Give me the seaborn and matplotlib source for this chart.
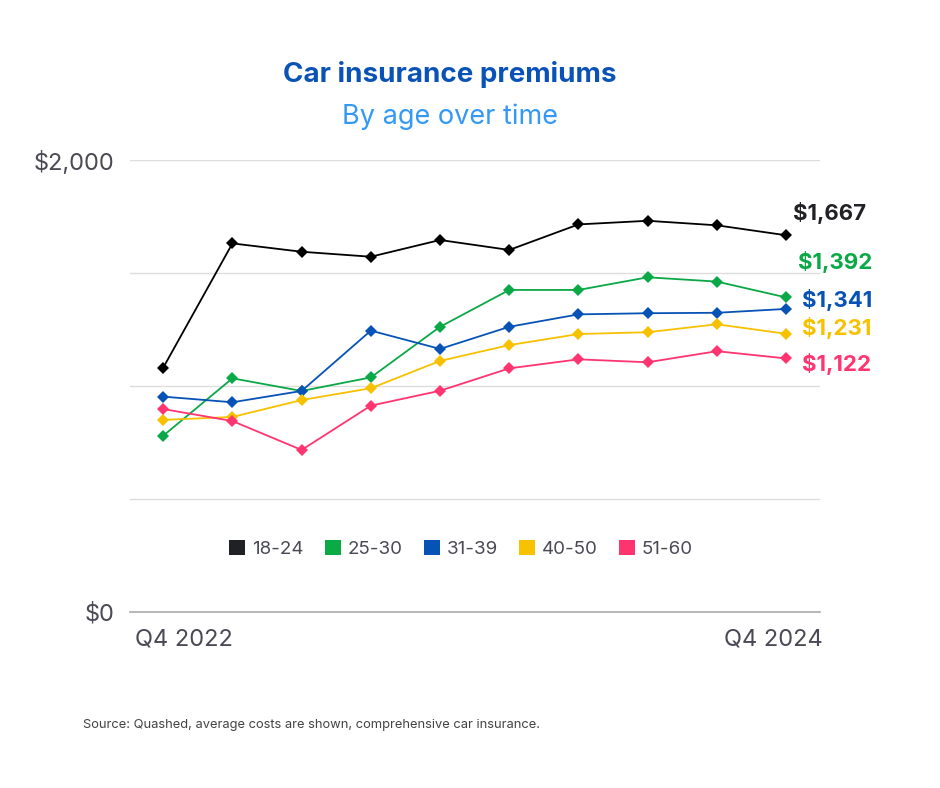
import matplotlib
matplotlib.use("Agg")
import matplotlib.pyplot as plt
import seaborn as sns
import pandas as pd
from matplotlib.patches import Patch

# ---- data ----
periods = list(range(10))
x_labels = ["Q4 2022", "Q4 2024"]
ages = ["18-24", "25-30", "31-39", "40-50", "51-60"]
p_18_24 = [1081, 1631, 1594, 1572, 1646, 1602, 1715, 1731, 1711, 1667]
p_25_30 = [780, 1034, 978, 1038, 1262, 1425, 1425, 1481, 1462, 1392]
p_31_39 = [953, 928, 978, 1245, 1164, 1262, 1317, 1322, 1324, 1341]
p_40_50 = [850, 863, 938, 990, 1111, 1181, 1230, 1238, 1273, 1231]
p_51_60 = [898, 845, 717, 913, 979, 1078, 1118, 1105, 1154, 1122]
end_labels = ["$1,667", "$1,392", "$1,341", "$1,231", "$1,122"]

series = [p_18_24, p_25_30, p_31_39, p_40_50, p_51_60]
colors = ["#000000", "#0aa846", "#0753b5", "#f7c100", "#ff3470"]
legend_colors = ["#1f2125", "#0aab46", "#0652b5", "#f8c200", "#ff3370"]
label_colors = ["#222226", "#0aa846", "#0753b5", "#f7c100", "#ff3470"]

rows = []
for age, vals in zip(ages, series):
    for p, v in zip(periods, vals):
        rows.append({"period": p, "premium": v, "age": age})
df = pd.DataFrame(rows)

sns.set_theme(style="white")
plt.rcParams["font.family"] = ["Inter", "DejaVu Sans"]

fig = plt.figure(figsize=(9.4, 7.88), dpi=100)
ax = fig.add_axes([130 / 940, 1 - 612 / 788, 690 / 940, 452 / 788])

sns.lineplot(data=df, x="period", y="premium", hue="age", hue_order=ages,
             palette=dict(zip(ages, colors)), marker="D", markersize=6.3,
             markeredgewidth=0, linewidth=1.3, legend=False, ax=ax, clip_on=False)

ax.set_xlim(-0.48, 9.49)
ax.set_ylim(0, 2000)
ax.set_yticks([0, 500, 1000, 1500, 2000])
ax.set_yticklabels(["$0", "", "", "", "$2,000"])
ax.set_xticks([])
ax.set_xlabel("")
ax.set_ylabel("")
ax.grid(axis="y", color="#dddddd", linewidth=1)
ax.set_axisbelow(True)
for s in ["top", "right", "left"]:
    ax.spines[s].set_visible(False)
ax.spines["bottom"].set_color("#aaaaaa")
ax.spines["bottom"].set_linewidth(1.2)
ax.tick_params(axis="y", length=0, pad=11, labelsize=17, labelcolor="#4a4a55")

# x labels at axis edges
ax.text(5 / 690, -0.06, x_labels[0], transform=ax.transAxes, ha="left", va="center",
        fontsize=17, color="#4a4a55")
ax.text(1.004, -0.06, x_labels[1], transform=ax.transAxes, ha="right", va="center",
        fontsize=17, color="#4a4a55")

# end labels
offsets = [(7, 22), (12, 35), (16, 9), (16, 6), (16, -6)]
for vals, lab, c, off in zip(series, end_labels, label_colors, offsets):
    ax.annotate(lab, xy=(periods[-1], vals[-1]), xytext=off, textcoords="offset pixels",
                ha="left", va="center", fontsize=16, fontweight="bold", color=c)

# legend
handles = [Patch(facecolor=c, edgecolor="none") for c in legend_colors]
leg = fig.legend(handles, ages, loc="center", bbox_to_anchor=(461 / 940, 1 - 549 / 788),
                 ncol=5, frameon=False, fontsize=13.5, handlelength=0.85, handleheight=0.85,
                 handletextpad=0.35, columnspacing=1.15, labelcolor="#4a4a55")

# titles
fig.text(450 / 940, 1 - 74 / 788, "Car insurance premiums", ha="center", va="center",
         fontsize=20, fontweight="bold", color="#0a52b5")
fig.text(450 / 940, 1 - 117 / 788, "By age over time", ha="center", va="center",
         fontsize=19.5, color="#3399f5")
fig.text(83 / 940, 1 - 725 / 788,
         "Source: Quashed, average costs are shown, comprehensive car insurance.",
         ha="left", va="center", fontsize=9.3, color="#444444")

fig.savefig("out.png", dpi=100, facecolor="white")
